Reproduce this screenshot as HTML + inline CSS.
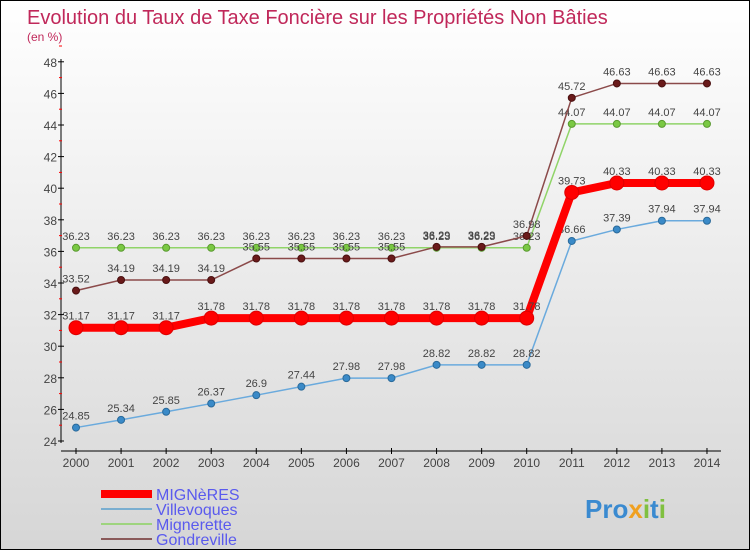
<!DOCTYPE html>
<html><head><meta charset="utf-8"><style>
body{margin:0;}
#c{width:748px;height:548px;border:1px solid #000;background:linear-gradient(#ffffff,#d6d6d6);position:relative;font-family:"Liberation Sans",sans-serif;overflow:hidden}
</style></head><body>
<div id="c">
<svg id="s" width="748" height="548">
<text x="26" y="23" font-size="20" fill="#c0285a">Evolution du Taux de Taxe Foncière sur les Propriétés Non Bâties</text>
<text x="26" y="40" font-size="12" fill="#c0285a">(en %)</text>
<g id="axes"></g><g id="series"></g>
<g>
<rect x="100" y="489" width="51" height="8" fill="#ff0000"/>
<text x="155" y="499" font-size="16" fill="#5a5aee">MIGNèRES</text>
<rect x="100" y="507" width="51" height="2" fill="#7aaed0"/>
<text x="155" y="514" font-size="16" fill="#5a5aee">Villevoques</text>
<rect x="100" y="522" width="51" height="2" fill="#9ed47e"/>
<text x="155" y="529" font-size="16" fill="#5a5aee">Mignerette</text>
<rect x="100" y="537" width="51" height="2" fill="#8a5a5a"/>
<text x="155" y="544" font-size="16" fill="#5a5aee">Gondreville</text>
</g>
<text x="584" y="517" font-size="26" font-weight="bold" fill="#3a8ad0">Pro<tspan fill="#f0a020">x</tspan><tspan fill="#80c040">i</tspan>t<tspan fill="#80c040">i</tspan></text>
</svg></div>
<script>
const years=[2000,2001,2002,2003,2004,2005,2006,2007,2008,2009,2010,2011,2012,2013,2014];
const yTicks=[24,26,28,30,32,34,36,38,40,42,44,46,48];
const mignerres=[31.17,31.17,31.17,31.78,31.78,31.78,31.78,31.78,31.78,31.78,31.78,39.73,40.33,40.33,40.33];
const villevoques=[24.85,25.34,25.85,26.37,26.9,27.44,27.98,27.98,28.82,28.82,28.82,36.66,37.39,37.94,37.94];
const mignerette=[36.23,36.23,36.23,36.23,36.23,36.23,36.23,36.23,36.23,36.23,36.23,44.07,44.07,44.07,44.07];
const gondreville=[33.52,34.19,34.19,34.19,35.55,35.55,35.55,35.55,36.29,36.29,36.98,45.72,46.63,46.63,46.63];
const NS='http://www.w3.org/2000/svg';
const X=i=>75+i*45.07, Y=v=>440-(v-24)*15.8;
function mk(t,a,p){const e=document.createElementNS(NS,t);for(const k in a)e.setAttribute(k,a[k]);p.appendChild(e);return e;}
const ax=document.getElementById('axes');
const yl=mk('line',{x1:60,y1:58,x2:60,y2:442,stroke:'#000'},ax);


const xl=mk('line',{x1:60,y1:450,x2:720,y2:450,stroke:'#000'},ax);


yTicks.forEach(v=>{mk('line',{x1:57,y1:Y(v),x2:63,y2:Y(v),stroke:'#000'},ax);
mk('line',{x1:58,y1:Y(v+1),x2:61,y2:Y(v+1),stroke:'#f00'},ax);
const t=mk('text',{x:56,y:Y(v)+5,'font-size':12,fill:'#444','text-anchor':'end'},ax);t.textContent=v;

});
years.forEach((y,i)=>{mk('line',{x1:X(i),y1:447,x2:X(i),y2:453,stroke:'#000'},ax);
const t=mk('text',{x:X(i),y:466,'font-size':12,fill:'#444','text-anchor':'middle'},ax);t.textContent=y;

});
const sg=document.getElementById('series');
function series(name,d,lc,lw,dc,r,sc){
const g=mk('g',{},sg);


mk('polyline',{points:d.map((v,i)=>X(i)+','+Y(v)).join(' '),fill:'none',stroke:lc,'stroke-width':lw},g);
d.forEach((v,i)=>{const c=mk('circle',{cx:X(i),cy:Y(v),r:r,fill:dc,stroke:sc,'stroke-width':1},g);


const t=mk('text',{x:X(i),y:Y(v)-8,'font-size':11,fill:'#444','text-anchor':'middle'},g);t.textContent=v;

});}
series('villevoques',villevoques,'#6aaadd',1.5,'#3a8ac8',3.5,'#2a6a9a');
series('mignerette',mignerette,'#90d468',1.5,'#7ac943',3.5,'#5a9a30');
series('gondreville',gondreville,'#8b4a4a',1.5,'#6a1a1a',3.5,'#4a1010');
series('mignerres',mignerres,'#ff0000',8,'#ff0000',7,'#dd0000');
</script>
</body></html>
